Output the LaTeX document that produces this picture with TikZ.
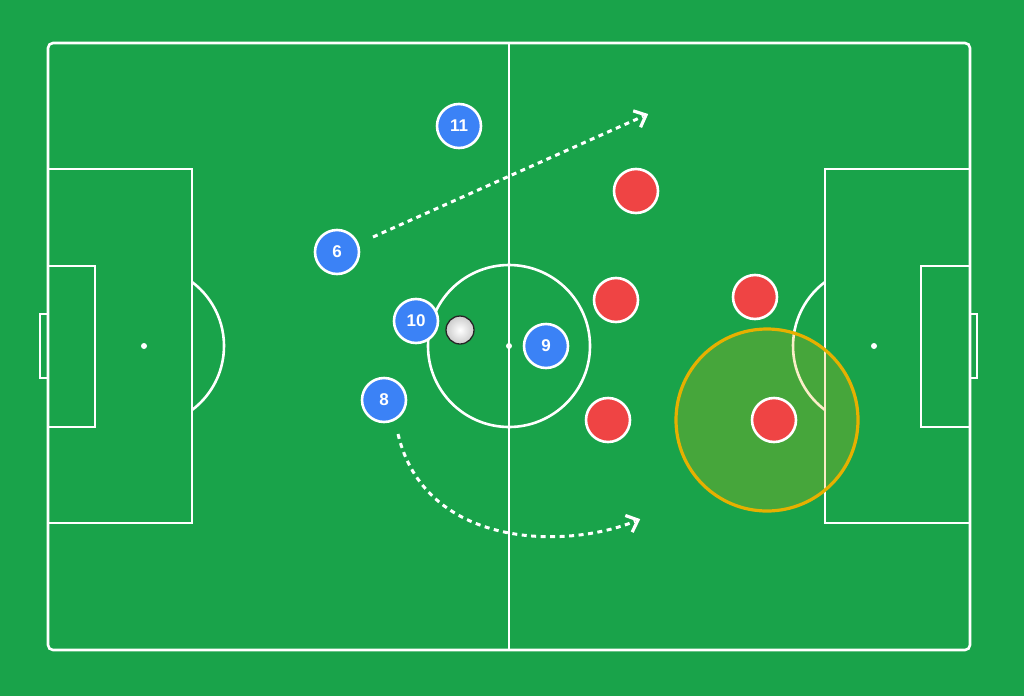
\documentclass[tikz,border=0pt]{standalone}
\usepackage{fontspec}
\setmainfont{Liberation Sans}
\usetikzlibrary{calc}
\definecolor{pitch}{HTML}{19A34A}
\definecolor{blueP}{HTML}{3B82F6}
\definecolor{redP}{HTML}{EF4444}
\definecolor{zoneY}{HTML}{EAB308}
\definecolor{zoneB}{HTML}{E6B000}
\tikzset{
  line/.style={draw=white, line width=2.6pt},
  blueplayer/.style={circle, fill=blueP, draw=white, line width=2.6pt, minimum size=44pt, inner sep=0pt, text=white, font=\fontsize{17}{20}\selectfont\bfseries},
  redplayer/.style={circle, fill=redP, draw=white, line width=2.6pt, minimum size=44pt, inner sep=0pt},
  run/.style={draw=white, line width=3pt, dash pattern=on 5pt off 4.5pt},
  chevron/.style={draw=white, line width=3.2pt, miter limit=10},
}
\begin{document}
\begin{tikzpicture}[x=1pt,y=-1pt]
\fill[pitch] (0,0) rectangle (1024,696);
\useasboundingbox (0,0) rectangle (1024,696);
% pitch outline
\draw[line, rounded corners=5pt] (48,43) rectangle (970,650);
\draw[line] (509,43) -- (509,650);
\draw[line] (509,346) circle[radius=81];
\fill[white] (509,346) circle[radius=3];
% left
\draw[line] (48,169) rectangle (192,523);
\draw[line] (48,266) rectangle (95,427);
\draw[line] (48,314) -- (40,314) -- (40,378) -- (48,378);
\fill[white] (144,346) circle[radius=3];
\draw[line] (192,282) arc[start angle=-53.13, end angle=53.13, radius=80];
% right
\draw[line] (825,169) rectangle (970,523);
\draw[line] (921,266) rectangle (970,427);
\draw[line] (970,314) -- (977,314) -- (977,378) -- (970,378);
\fill[white] (874,346) circle[radius=3];
\draw[line] (825,282) arc[start angle=233.13, end angle=126.87, radius=80];
% pressure zone
\draw[zoneB, line width=3.2pt, fill=zoneY, fill opacity=0.22] (767,420) circle[radius=91];
% players
\node[blueplayer] (p11) at (459,126) {11};
\node[blueplayer] (p6) at (337,252) {6};
\node[blueplayer] (p10) at (416,321) {10};
\node[blueplayer] (p9) at (546,346) {9};
\node[blueplayer] (p8) at (384,400) {8};
\node[redplayer] (r1) at (636,191) {};
\node[redplayer] (r2) at (616,300) {};
\node[redplayer] (r3) at (755,297) {};
\node[redplayer] (r4) at (608,420) {};
\node[redplayer] (r5) at (774,420) {};
% ball
\node[circle, minimum size=28pt, inner sep=0pt, draw=black!85, line width=1.3pt, inner color=white, outer color=gray!40, shading=radial] (ball) at (460,330) {};
% runs
\coordinate (s6) at (373,237);
\coordinate (e6) at (646,115);
\coordinate (s8) at (398,434);
\coordinate (e8) at (638,520);
\coordinate (c8) at (565,550);
\coordinate (b6) at ($(e6)!10pt!(s6)$);
\coordinate (b8) at ($(e8)!10pt!(c8)$);
\draw[run] (s6) -- ($(e6)!3pt!(s6)$);
\draw[chevron] ($(b6)!9pt!90:(e6)$) -- (e6) -- ($(b6)!9pt!-90:(e6)$);
\draw[run] (s8) .. controls (425,548) and (c8) .. ($(e8)!3pt!(c8)$);
\draw[chevron] ($(b8)!9pt!90:(e8)$) -- (e8) -- ($(b8)!9pt!-90:(e8)$);
\end{tikzpicture}
\end{document}
